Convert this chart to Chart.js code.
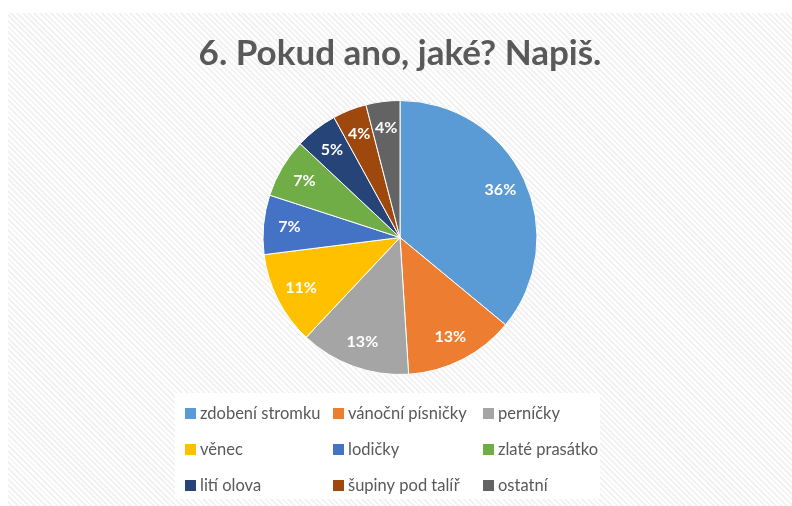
<!DOCTYPE html>
<html>
<head>
<meta charset="utf-8">
<script src="https://cdn.jsdelivr.net/npm/chart.js@4"></script>
<style>
    html, body { margin: 0; padding: 0; background: #fff; }
    #wrap {
        position: absolute; left: 8px; top: 13px; width: 784px; height: 493px;
        background: repeating-linear-gradient(45deg, #ffffff 0px, #ffffff 2px, #f2f2f2 2px, #f2f2f2 4px);
    }
</style>
</head>
<body>
<div id="wrap"><canvas id="myChart" width="784" height="493"></canvas></div>
<script>
const labels = ['zdobení stromku', 'vánoční písničky', 'perníčky', 'věnec', 'lodičky', 'zlaté prasátko', 'lití olova', 'šupiny pod talíř', 'ostatní'];
const values = [36, 13, 13, 11, 7, 7, 5, 4, 4];
const colors = ['#5B9BD5', '#ED7D31', '#A5A5A5', '#FFC000', '#4472C4', '#70AD47', '#264478', '#9E480E', '#636363'];

// percent labels inside slices
const sliceLabels = {
    id: 'sliceLabels',
    afterDatasetsDraw(chart) {
        const ctx = chart.ctx;
        const meta = chart.getDatasetMeta(0);
        const total = values.reduce((a, b) => a + b, 0);
        ctx.save();
        ctx.font = 'bold 16px Lato';
        ctx.fillStyle = '#ffffff';
        ctx.textAlign = 'center';
        ctx.textBaseline = 'middle';
        meta.data.forEach((arc, i) => {
            const p = arc.getProps(['x', 'y', 'startAngle', 'endAngle', 'outerRadius']);
            const a = (p.startAngle + p.endAngle) / 2;
            const r = p.outerRadius * 0.81;
            ctx.fillText(Math.round(values[i] / total * 100) + '%', p.x + Math.cos(a) * r, p.y + Math.sin(a) * r);
        });
        ctx.restore();
    }
};

// legend in a 3-column grid, like the original
const gridLegend = {
    id: 'gridLegend',
    afterDraw(chart) {
        const ctx = chart.ctx;
        ctx.save();
        ctx.fillStyle = '#ffffff';
        ctx.fillRect(167, 380, 425, 106);
        ctx.font = '16.5px Lato';
        ctx.textBaseline = 'middle';
        const colX = [177, 325, 475];
        const rowY = [400, 436, 472];
        labels.forEach((lab, i) => {
            const x = colX[i % 3], y = rowY[Math.floor(i / 3)];
            ctx.fillStyle = colors[i];
            ctx.fillRect(x, y - 5, 11, 11);
            ctx.fillStyle = '#595959';
            ctx.fillText(lab, x + 15, y + 1);
        });
        ctx.restore();
    }
};

const ctx = document.getElementById('myChart').getContext('2d');
const myChart = new Chart(ctx, {
    type: 'pie',
    data: {
        labels: labels,
        datasets: [{
            data: values,
            backgroundColor: colors,
            borderColor: '#ffffff',
            borderWidth: 1
        }]
    },
    options: {
        responsive: false,
        animation: false,
        layout: { padding: { bottom: 131 } },
        plugins: {
            legend: { display: false },
            tooltip: { enabled: false },
            title: {
                display: true,
                text: '6. Pokud ano, jaké? Napiš.',
                color: '#595959',
                font: { family: 'Lato', size: 35, weight: 'bold' },
                padding: { top: 20, bottom: 25 }
            }
        }
    },
    plugins: [sliceLabels, gridLegend]
});
</script>
</body>
</html>
